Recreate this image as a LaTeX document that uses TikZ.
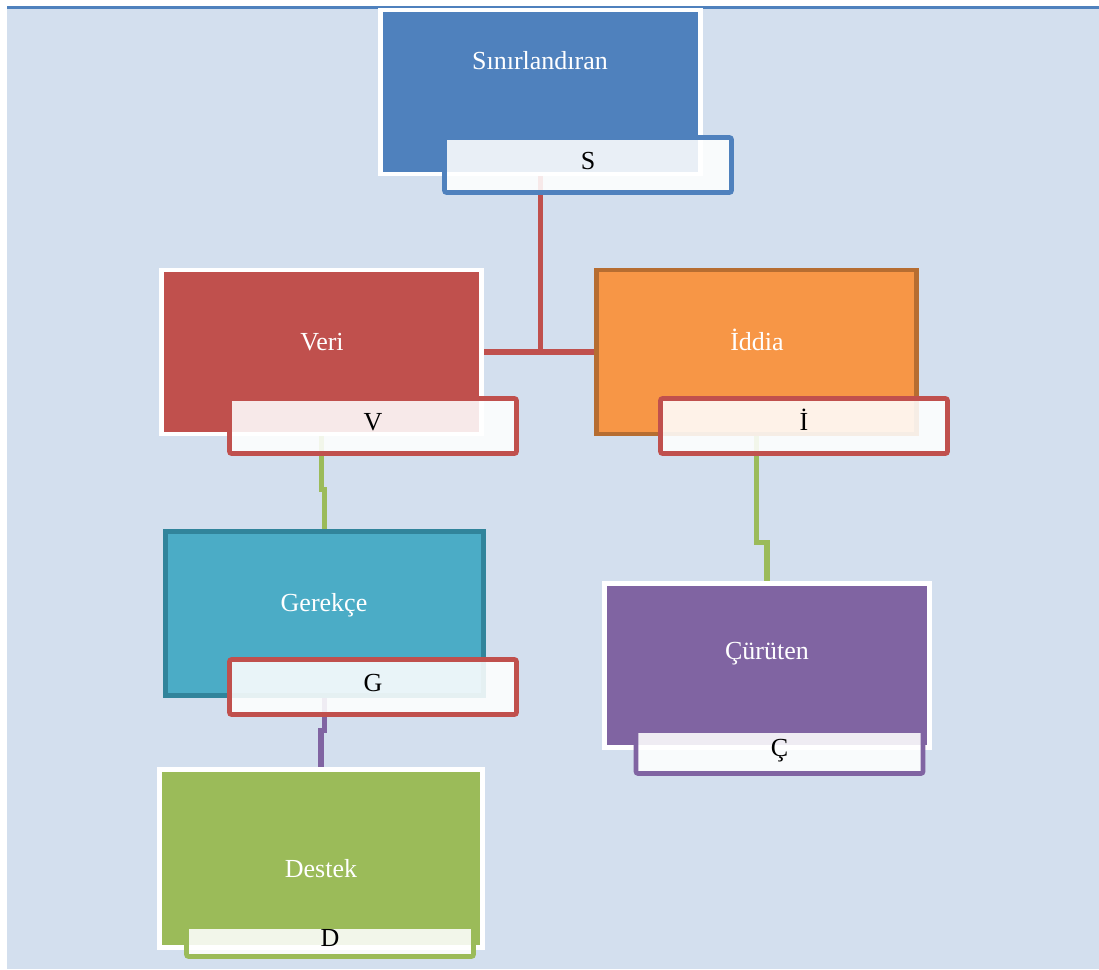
\documentclass[tikz,border=0pt]{standalone}
\usepackage{fontspec}
\setmainfont{Liberation Serif}
\usetikzlibrary{backgrounds}
\definecolor{backblue}{HTML}{D3DFEE}
\definecolor{boxblue}{HTML}{4F81BD}
\definecolor{boxred}{HTML}{C0504D}
\definecolor{boxorange}{HTML}{F79646}
\definecolor{darkorange}{HTML}{B66D31}
\definecolor{boxteal}{HTML}{4BACC6}
\definecolor{darkteal}{HTML}{31849B}
\definecolor{boxpurple}{HTML}{8064A2}
\definecolor{boxgreen}{HTML}{9BBB59}
\begin{document}
\begin{tikzpicture}[x=0.025cm, y=-0.025cm, font=\fontsize{18.5}{22}\selectfont]
            \useasboundingbox (0,0) rectangle (1099,969);

            \begin{scope}[every node/.style = {rectangle, draw=white, line width=3.2pt, minimum width=8cm, minimum height=4.1cm, inner sep=0pt}]
                \node[fill=boxblue] (s) at (540.5,92) {};
                \node[fill=boxred] (v) at (321.5,352) {};
                \node[fill=boxorange, draw=darkorange] (i) at (756.5,352) {};
                \node[fill=boxteal, draw=darkteal, minimum width=7.95cm] (g) at (324.5,613.5) {};
                \node[fill=boxpurple, minimum width=8.125cm] (c) at (767,665.5) {};
                \node[fill=boxgreen, minimum width=8.075cm, minimum height=4.45cm] (d) at (321,858.5) {};
            \end{scope}

            \begin{scope}[every node/.style = {anchor=base, text=white}]
                \node (st) at (540,69) {Sınırlandıran};
                \node (vt) at (322,350) {Veri};
                \node (it) at (757,350) {İddia};
                \node (gt) at (324,611) {Gerekçe};
                \node (ct) at (767,659) {Çürüten};
                \node (dt) at (321,877) {Destek};
            \end{scope}

            \begin{scope}[every node/.style = {rectangle, rounded corners=1.5pt, fill=white, fill opacity=0.88, text opacity=1, line width=3.3pt, minimum width=7.175cm, minimum height=1.375cm, inner sep=0pt, text height=0.66em, text depth=0pt}]
                \node[draw=boxblue] (sl) at (588,165) {S};
                \node[draw=boxred] (vl) at (373,426) {V};
                \node[draw=boxred] (il) at (804,426) {İ};
                \node[draw=boxred] (gl) at (373,687) {G};
                \node[draw=boxpurple, minimum height=1.075cm] (cl) at (779.5,752) {Ç};
                \node[draw=boxgreen, minimum height=0.75cm] (dl) at (330,941.5) {D};
            \end{scope}

            \begin{pgfonlayer}{background}
                \fill[backblue] (7,6) rectangle (1099,969);
                \draw[boxblue, line width=2.2pt] (7,7.5) -- (1099,7.5);
                \begin{scope}[line width=3.6pt]
                    \draw[boxred] (s.south) -- (s.south |- v.east);
                    \draw[boxred] (v.east) -- (i.west);
                    \draw[boxgreen] (v.south) -- ++(0,53) -| (g.north);
                    \draw[boxgreen] (i.south) -- ++(0,106) -| (c.north);
                    \draw[boxpurple] (g.south) -- ++(0,33) -| (d.north);
                \end{scope}
            \end{pgfonlayer}
        \end{tikzpicture}
\end{document}
